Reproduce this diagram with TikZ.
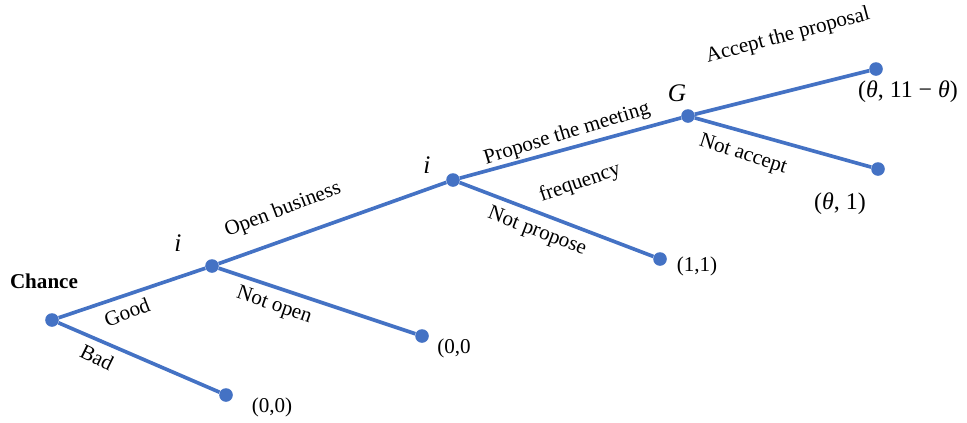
\documentclass[tikz,border=0pt]{standalone}
\usepackage{fontspec}
\setmainfont{Liberation Serif}
\usepackage{xcolor}
\definecolor{treeblue}{RGB}{68,114,196}

\begin{document}
\begin{tikzpicture}[
    x=0.025cm, y=-0.025cm,
    every node/.style={font=\fontsize{15}{18}\selectfont},
    dot/.style={circle, fill=treeblue, inner sep=0pt, minimum size=3.4mm},
    branch/.style={treeblue, line width=2.6pt},
    lbl/.style={inner sep=1pt},
    pay/.style={inner sep=1pt},
    player/.style={font=\fontsize{18}{21}\selectfont\itshape},
]
\useasboundingbox (0,0) rectangle (967,422);
% decision nodes
\node[dot] (chance) at (52,320) {};
\node[dot] (i1) at (212,266) {};
\node[dot] (i2) at (453,180) {};
\node[dot] (g)  at (688,116) {};
% terminal nodes
\node[dot] (acc)   at (876,69)  {};
\node[dot] (nacc)  at (878,169) {};
\node[dot] (nprop) at (660,259) {};
\node[dot] (nopen) at (422,336) {};
\node[dot] (bad)   at (226,395) {};
% branches
\draw[branch] (chance) -- (i1);
\draw[branch] (chance) -- (bad);
\draw[branch] (i1) -- (i2);
\draw[branch] (i1) -- (nopen);
\draw[branch] (i2) -- (g);
\draw[branch] (i2) -- (nprop);
\draw[branch] (g) -- (acc);
\draw[branch] (g) -- (nacc);
% players
\node[font=\fontsize{15}{18}\selectfont\bfseries] (chancelbl) at (44,281) {Chance};
\node[player] (i1lbl) at (178,243) {i};
\node[player] (i2lbl) at (427,165) {i};
\node[player] (glbl)  at (677,93)  {G};
% actions
\node[lbl, rotate=21]  (goodlbl)  at (127,312) {Good};
\node[lbl, rotate=-26] (badlbl)   at (97,357)  {Bad};
\node[lbl, rotate=21]  (openlbl)  at (283,210) {Open business};
\node[lbl, rotate=-19] (nopenlbl) at (274,306) {Not open};
\node[lbl, rotate=17]  (proplbl)  at (567,134) {Propose the meeting};
\node[lbl, rotate=19]  (freqlbl)  at (580,183) {frequency};
\node[lbl, rotate=-21] (nproplbl) at (537,232) {Not propose};
\node[lbl, rotate=15]  (acclbl)   at (788,36)  {Accept the proposal};
\node[lbl, rotate=-18] (nacclbl)  at (743,155) {Not accept};
% payoffs
\node[pay, font=\fontsize{17}{20}\selectfont] (accpay) at (908,92)
    {(\textit{θ}, 11 − \textit{θ})};
\node[pay, font=\fontsize{17}{20}\selectfont] (naccpay) at (840,204)
    {(\textit{θ}, 1)};
\node[pay] (nproppay) at (697,266) {(1,1)};
\node[pay] (nopenpay) at (454,348) {(0,0};
\node[pay] (badpay)   at (272,407) {(0,0)};
\end{tikzpicture}
\end{document}
